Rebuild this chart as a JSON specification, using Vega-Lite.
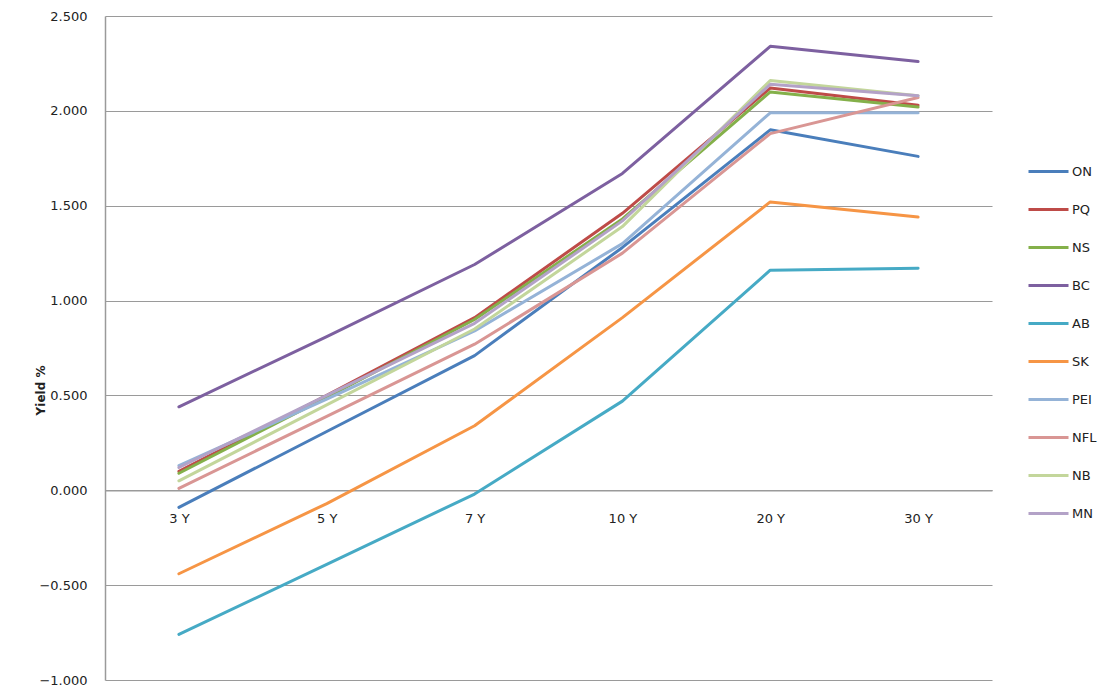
{
  "$schema": "https://vega.github.io/schema/vega-lite/v6.json",
  "autosize": {"type": "none"},
  "width": 887,
  "height": 664,
  "padding": {"left": 105, "top": 16, "right": 110, "bottom": 10},
  "background": "white",
  "config": {
    "view": {"stroke": null},
    "font": "DejaVu Sans",
    "axis": {"labelFont": "DejaVu Sans", "labelFontSize": 13, "labelColor": "#222222", "ticks": false}
  },
  "data": {
    "values": [
      {"series": "ON", "term": "3 Y", "yield": -0.09},
      {"series": "ON", "term": "5 Y", "yield": 0.31},
      {"series": "ON", "term": "7 Y", "yield": 0.71},
      {"series": "ON", "term": "10 Y", "yield": 1.28},
      {"series": "ON", "term": "20 Y", "yield": 1.90},
      {"series": "ON", "term": "30 Y", "yield": 1.76},
      {"series": "PQ", "term": "3 Y", "yield": 0.10},
      {"series": "PQ", "term": "5 Y", "yield": 0.50},
      {"series": "PQ", "term": "7 Y", "yield": 0.91},
      {"series": "PQ", "term": "10 Y", "yield": 1.46},
      {"series": "PQ", "term": "20 Y", "yield": 2.12},
      {"series": "PQ", "term": "30 Y", "yield": 2.03},
      {"series": "NS", "term": "3 Y", "yield": 0.09},
      {"series": "NS", "term": "5 Y", "yield": 0.49},
      {"series": "NS", "term": "7 Y", "yield": 0.90},
      {"series": "NS", "term": "10 Y", "yield": 1.43},
      {"series": "NS", "term": "20 Y", "yield": 2.10},
      {"series": "NS", "term": "30 Y", "yield": 2.02},
      {"series": "BC", "term": "3 Y", "yield": 0.44},
      {"series": "BC", "term": "5 Y", "yield": 0.81},
      {"series": "BC", "term": "7 Y", "yield": 1.19},
      {"series": "BC", "term": "10 Y", "yield": 1.67},
      {"series": "BC", "term": "20 Y", "yield": 2.34},
      {"series": "BC", "term": "30 Y", "yield": 2.26},
      {"series": "AB", "term": "3 Y", "yield": -0.76},
      {"series": "AB", "term": "5 Y", "yield": -0.39},
      {"series": "AB", "term": "7 Y", "yield": -0.02},
      {"series": "AB", "term": "10 Y", "yield": 0.47},
      {"series": "AB", "term": "20 Y", "yield": 1.16},
      {"series": "AB", "term": "30 Y", "yield": 1.17},
      {"series": "SK", "term": "3 Y", "yield": -0.44},
      {"series": "SK", "term": "5 Y", "yield": -0.07},
      {"series": "SK", "term": "7 Y", "yield": 0.34},
      {"series": "SK", "term": "10 Y", "yield": 0.91},
      {"series": "SK", "term": "20 Y", "yield": 1.52},
      {"series": "SK", "term": "30 Y", "yield": 1.44},
      {"series": "PEI", "term": "3 Y", "yield": 0.13},
      {"series": "PEI", "term": "5 Y", "yield": 0.48},
      {"series": "PEI", "term": "7 Y", "yield": 0.84},
      {"series": "PEI", "term": "10 Y", "yield": 1.30},
      {"series": "PEI", "term": "20 Y", "yield": 1.99},
      {"series": "PEI", "term": "30 Y", "yield": 1.99},
      {"series": "NFL", "term": "3 Y", "yield": 0.01},
      {"series": "NFL", "term": "5 Y", "yield": 0.39},
      {"series": "NFL", "term": "7 Y", "yield": 0.77},
      {"series": "NFL", "term": "10 Y", "yield": 1.25},
      {"series": "NFL", "term": "20 Y", "yield": 1.88},
      {"series": "NFL", "term": "30 Y", "yield": 2.07},
      {"series": "NB", "term": "3 Y", "yield": 0.05},
      {"series": "NB", "term": "5 Y", "yield": 0.45},
      {"series": "NB", "term": "7 Y", "yield": 0.85},
      {"series": "NB", "term": "10 Y", "yield": 1.39},
      {"series": "NB", "term": "20 Y", "yield": 2.16},
      {"series": "NB", "term": "30 Y", "yield": 2.08},
      {"series": "MN", "term": "3 Y", "yield": 0.12},
      {"series": "MN", "term": "5 Y", "yield": 0.50},
      {"series": "MN", "term": "7 Y", "yield": 0.88},
      {"series": "MN", "term": "10 Y", "yield": 1.42},
      {"series": "MN", "term": "20 Y", "yield": 2.14},
      {"series": "MN", "term": "30 Y", "yield": 2.08}
    ]
  },
  "mark": {"type": "line", "strokeWidth": 3, "strokeCap": "round", "strokeJoin": "round"},
  "encoding": {
    "x": {
      "field": "term",
      "type": "ordinal",
      "sort": ["3 Y", "5 Y", "7 Y", "10 Y", "20 Y", "30 Y"],
      "scale": {"type": "point", "padding": 0.5},
      "axis": {
        "title": null,
        "labelAngle": 0,
        "offset": -189.7,
        "domainColor": "#9a9a9a",
        "domainWidth": 1.5,
        "labelPadding": 22,
        "grid": false
      }
    },
    "y": {
      "field": "yield",
      "type": "quantitative",
      "scale": {"domain": [-1, 2.5], "nice": false, "zero": false},
      "axis": {
        "title": "Yield %",
        "titleFont": "DejaVu Sans",
        "titleFontSize": 12,
        "titleFontWeight": "bold",
        "titleColor": "#222222",
        "titleAngle": -90,
        "titleX": -65,
        "titleY": 374,
        "titleAlign": "center",
        "titleBaseline": "middle",
        "values": [-1, -0.5, 0, 0.5, 1, 1.5, 2, 2.5],
        "format": ".3f",
        "labelPadding": 18,
        "domainColor": "#9a9a9a",
        "domainWidth": 1.5,
        "grid": true,
        "gridColor": "#9a9a9a",
        "gridWidth": 1.2
      }
    },
    "color": {
      "field": "series",
      "type": "nominal",
      "scale": {
        "domain": ["ON", "PQ", "NS", "BC", "AB", "SK", "PEI", "NFL", "NB", "MN"],
        "range": ["#4a7ebb", "#be4b48", "#84b04a", "#7d60a0", "#46aac5", "#f69545", "#95b3d7", "#d99694", "#c3d69b", "#b3a2c7"]
      },
      "legend": {
        "title": null,
        "orient": "none",
        "legendX": 922,
        "legendY": 134,
        "symbolType": "stroke",
        "symbolSize": 1600,
        "symbolStrokeWidth": 3,
        "labelFont": "DejaVu Sans",
        "labelFontSize": 13,
        "labelColor": "#222222",
        "labelOffset": 2,
        "rowPadding": 9
      }
    }
  }
}
